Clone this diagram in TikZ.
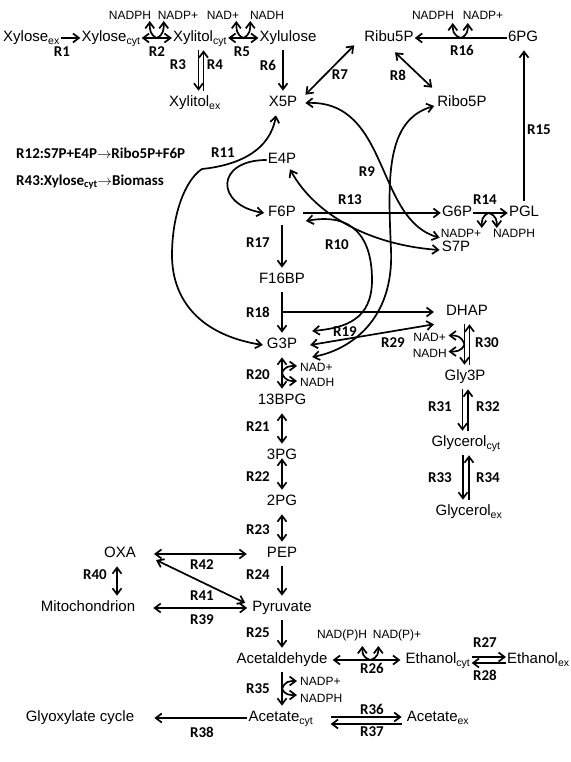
\documentclass[tikz,border=0pt]{standalone}
\usepackage{fontspec}
\setmainfont{Liberation Sans}
\newfontfamily\rfont{Carlito}
\usepackage{tikz}
\usetikzlibrary{calc,arrows.meta,positioning}
\tikzset{
  ar/.style={-{Straight Barb[length=6pt,width=9pt]},line width=1.7pt},
  dar/.style={{Straight Barb[length=6pt,width=9pt]}-{Straight Barb[length=6pt,width=9pt]},line width=1.7pt},
  met/.style={inner xsep=1pt,inner ysep=5pt,text height=11pt,text depth=3.2pt,font=\fontsize{15}{17}\selectfont},
  cof/.style={inner sep=1pt,font=\fontsize{12}{13}\selectfont},
  rlab/.style={inner sep=1pt,font=\rfont\bfseries\fontsize{15}{16}\selectfont}
}
\newcommand{\sbs}[1]{\textsubscript{#1}}
\newcommand{\curlv}[3]{\draw[ar] (#1) .. controls ($(#1)+(#2,{0.2*(#3)})$) and ($(#1)+(#2,{0.5*(#3)})$) .. ($(#1)+(#2,#3)$);}
\newcommand{\curlh}[3]{\draw[ar] (#1) .. controls ($(#1)+({0.2*(#2)},#3)$) and ($(#1)+({0.5*(#2)},#3)$) .. ($(#1)+(#2,#3)$);}
\begin{document}
\begin{tikzpicture}[x=1pt,y=-1pt]
\fill[white] (0,0) rectangle (565,762);
\node[met,anchor=east] (xylex) at (61,38) {Xylose\sbs{ex}};
\node[met] (xylcyt) at (111,38) {Xylose\sbs{cyt}};
\node[met] (xoltcyt) at (200,38) {Xylitol\sbs{cyt}};
\node[met] (xylu) at (288,38) {Xylulose};
\node[met] (xoltex) at (195,103) {Xylitol\sbs{ex}};
\node[met] (x5p) at (283,103) {X5P};
\node[met] (ribu) at (389,38) {Ribu5P};
\node[met] (pg6) at (523,38) {6PG};
\node[met] (ribo) at (462,103) {Ribo5P};
\node[met] (e4p) at (282,160) {E4P};
\node[met] (f6p) at (282,213) {F6P};
\node[met] (g6p) at (457,213) {G6P};
\node[met] (pgl) at (524,213) {PGL};
\node[met] (s7p) at (456,248) {S7P};
\node[met] (f16bp) at (282,280) {F16BP};
\node[met] (dhap) at (467,312) {DHAP};
\node[met] (g3p) at (282,345) {G3P};
\node[met] (gly3p) at (465,377) {Gly3P};
\node[met] (bpg13) at (282,401) {13BPG};
\node[met] (glycyt) at (466,443) {Glycerol\sbs{cyt}};
\node[met] (pg3) at (282,456) {3PG};
\node[met] (pg2) at (282,502) {2PG};
\node[met] (glyex) at (469,512) {Glycerol\sbs{ex}};
\node[met] (pep) at (282,554) {PEP};
\node[met] (oxa) at (120,554) {OXA};
\node[met] (mito) at (88,608) {Mitochondrion};
\node[met] (pyr) at (282,608) {Pyruvate};
\node[met] (acald) at (282,660) {Acetaldehyde};
\node[met] (ethcyt) at (438,660) {Ethanol\sbs{cyt}};
\node[met,anchor=west] (ethex) at (506,660) {Ethanol\sbs{ex}};
\node[met] (acecyt) at (281,718) {Acetate\sbs{cyt}};
\node[met] (aceex) at (438,718) {Acetate\sbs{ex}};
\node[met] (glyox) at (80,718) {Glyoxylate cycle};
\node[cof] (c2a) at (130,15) {NADPH};
\node[cof] (c2b) at (178,15) {NADP+};
\node[cof] (c5a) at (223,15) {NAD+};
\node[cof] (c5b) at (267,15) {NADH};
\node[cof] (c16a) at (433,15) {NADPH};
\node[cof] (c16b) at (483,15) {NADP+};
\node[cof] (c14a) at (461,233) {NADP+};
\node[cof] (c14b) at (514,233) {NADPH};
\node[cof,anchor=east] (c29a) at (447,337) {NAD+};
\node[cof,anchor=east] (c29b) at (448,353) {NADH};
\node[cof,anchor=west] (c20a) at (299,367) {NAD+};
\node[cof,anchor=west] (c20b) at (299,382) {NADH};
\node[cof,anchor=west] (c35a) at (299,681) {NADP+};
\node[cof,anchor=west] (c35b) at (299,698) {NADPH};
\node[cof] (c26a) at (342,635) {NAD(P)H};
\node[cof] (c26b) at (397,635) {NAD(P)+};
\foreach \r/\x/\y in {1/62/52,2/157/52,3/178/65,4/215/65,5/242/52,6/268/65,7/340/75,8/398/75,
  9/367/172,10/337/245,11/223/153,13/350/200,14/485/200,15/539/130,16/462/50,17/258/243,
  18/258/312,19/345/332,20/258/375,21/258/427,22/258/477,23/258/530,24/258/575,25/258/633,
  26/372/668,27/485/643,28/485/675,29/393/343,30/487/343,31/440/407,32/488/407,33/440/478,
  34/488/478,35/258/689,36/372/709,37/372/732,38/202/732,39/202/620,40/95/575,41/202/596,42/202/565}
  \node[rlab] (lab\r) at (\x,\y) {R\r};
\node[rlab,anchor=west] (eq12) at (15,153) {R12:S7P+E4P$\rightarrow$Ribo5P+F6P};
\node[rlab,anchor=west] (eq43) at (15,182) {R43:Xylose\sbs{cyt}$\rightarrow$Biomass};
\draw[ar] (xylex) -- (xylcyt);
\draw[dar] (xylcyt) -- (xoltcyt);
\draw[dar] (xoltcyt) -- (xylu);
\coordinate (a3) at ([xshift=-1.5pt]xoltcyt.south);
\coordinate (a4) at ([xshift=3.5pt]xoltcyt.south);
\draw[ar] (a3) -- (a3 |- xoltex.north);
\draw[ar] (a4 |- xoltex.north) -- (a4);
\draw[ar] (xylu.south -| x5p) -- (x5p);
\draw[dar] ([xshift=-9pt,yshift=5pt]ribu.south west) -- ([xshift=7pt,yshift=-4pt]x5p.north east);
\draw[dar] ([xshift=6pt,yshift=-2pt]ribu.south) -- ([xshift=-4pt,yshift=3pt]ribo.north west);
\draw[ar] (pg6) -- (ribu);
\draw[ar] (pgl.north) -- (pgl.north |- pg6.south);
\draw[ar] (g6p) -- (pgl);
\draw[ar] ([xshift=6pt]f6p.east) -- (g6p.west);
\draw[ar] (f6p.south) -- (f6p.south |- f16bp.north);
\draw[ar] (f16bp) -- (g3p);
\draw[ar] (f16bp.south |- dhap) -- ([xshift=-11pt]dhap.west);
\draw[dar] ([xshift=12pt]g3p.east) -- ([xshift=-11pt]dhap.south west);
\coordinate (a29) at ([xshift=-2.5pt]dhap.south);
\coordinate (a30) at ([xshift=2.5pt]dhap.south);
\draw[ar] (a29) -- (a29 |- gly3p.north);
\draw[ar] (a30 |- gly3p.north) -- (a30);
\coordinate (a31) at ([xshift=-2.5pt]gly3p.south);
\coordinate (a32) at ([xshift=3pt]gly3p.south);
\draw[ar] (a31) -- (a31 |- glycyt.north);
\draw[ar] (a32 |- glycyt.north) -- (a32);
\coordinate (a33) at ([xshift=-3pt]glycyt.south);
\coordinate (a34) at ([xshift=3pt]glycyt.south);
\draw[ar] (a33) -- (a33 |- glyex.north);
\draw[ar] (a34 |- glyex.north) -- (a34);
\draw[dar] (g3p) -- (bpg13);
\draw[dar] (bpg13) -- (pg3);
\draw[dar] ([yshift=10pt]pg3.south) -- (pg2);
\draw[dar] (pg2) -- (pep);
\draw[ar] (pep) -- (pyr);
\draw[ar] (pyr) -- (acald);
\draw[ar] (acald.south) -- (acald.south |- acecyt.north);
\draw[dar] ([xshift=17pt]oxa.east) -- ([xshift=-19pt]pep.west);
\draw[dar] ([xshift=19pt,yshift=-6pt]oxa.east) -- ([xshift=-6pt,yshift=5pt]pyr.west);
\draw[dar] ([xshift=17pt]mito.east) -- ([xshift=-4pt]pyr.west);
\draw[dar] ([xshift=-3pt]oxa.south) -- ([xshift=-3pt]oxa.south |- mito.north);
\draw[ar] (acecyt) -- ([xshift=19pt]glyox.east);
\draw[dar] ([xshift=4pt]acald.east) -- ([xshift=-4pt]ethcyt.west);
\draw[ar] ([yshift=3pt]ethcyt.east) -- ([yshift=3pt]ethex.west);
\draw[ar] ([yshift=-3pt]ethex.west) -- ([yshift=-3pt]ethcyt.east);
\draw[ar] ([xshift=16pt,yshift=1pt]acecyt.east) -- ([xshift=-4pt,yshift=1pt]aceex.west);
\draw[ar] ([xshift=-4pt,yshift=-6pt]aceex.west) -- ([xshift=16pt,yshift=-6pt]acecyt.east);
\draw[dar] ([xshift=7pt]x5p.east) .. controls (390,100) and (375,220) .. ([xshift=-1pt,yshift=-2pt]s7p.north west);
\draw[dar] ([xshift=-2pt,yshift=-3pt]ribo.west) .. controls (385,120) and (388,180) .. (391,250)
  .. controls (394,320) and (350,350) .. ([xshift=14pt,yshift=-12pt]g3p.east);
\draw[dar] ([xshift=8pt,yshift=3pt]e4p.south) .. controls (315,215) and (370,245) .. ([xshift=-1pt,yshift=-2pt]s7p.west);
\draw[dar] ([xshift=9pt,yshift=-8pt]f6p.east) .. controls (355,212) and (372,240) .. (372,280)
  .. controls (372,320) and (345,328) .. ([xshift=14pt,yshift=14pt]g3p.east);
\draw[dar] ([xshift=-3pt]g3p.west) .. controls (200,335) and (172,300) .. (172,255)
  .. controls (172,215) and (185,180) .. (202,169) .. controls (240,165) and (270,150) .. ([xshift=-7pt]x5p.south);
\draw[ar] (e4p.west) .. controls (215,160) and (215,205) .. ([xshift=-3pt]f6p.west);
\coordinate (o2) at ($(xylcyt.east)!0.5!(xoltcyt.west)$);
\coordinate (o5) at ($(xoltcyt.east)!0.5!(xylu.west)$);
\coordinate (o16) at ($(pg6.west)!0.5!(ribu.east)$);
\coordinate (o14) at ($(g6p.east)!0.45!(pgl.west)$);
\coordinate (o26) at ($(acald.east)!0.55!(ethcyt.west)$);
\coordinate (o20) at ($(g3p.south)!0.5!(bpg13.north)$);
\coordinate (o35) at ($(acald.south)!0.5!(acald.south |- acecyt.north)$);
\coordinate (o29) at ($(a29)!0.5!(a29 |- gly3p.north)$);
\curlv{o2}{-7}{-17} \curlv{o2}{7}{-17}
\curlv{o5}{-7}{-17} \curlv{o5}{7}{-17}
\curlv{o16}{-8}{-15} \curlv{o16}{7}{-15}
\curlv{o26}{-8}{-14} \curlv{o26}{8}{-14}
\curlv{o14}{-7}{15} \curlv{o14}{8}{15}
\curlh{o20}{15}{-7} \curlh{o20}{15}{8}
\curlh{o35}{15}{-8} \curlh{o35}{15}{6}
\curlh{o29}{-16}{-9} \curlh{o29}{-16}{7}
\end{tikzpicture}
\end{document}
